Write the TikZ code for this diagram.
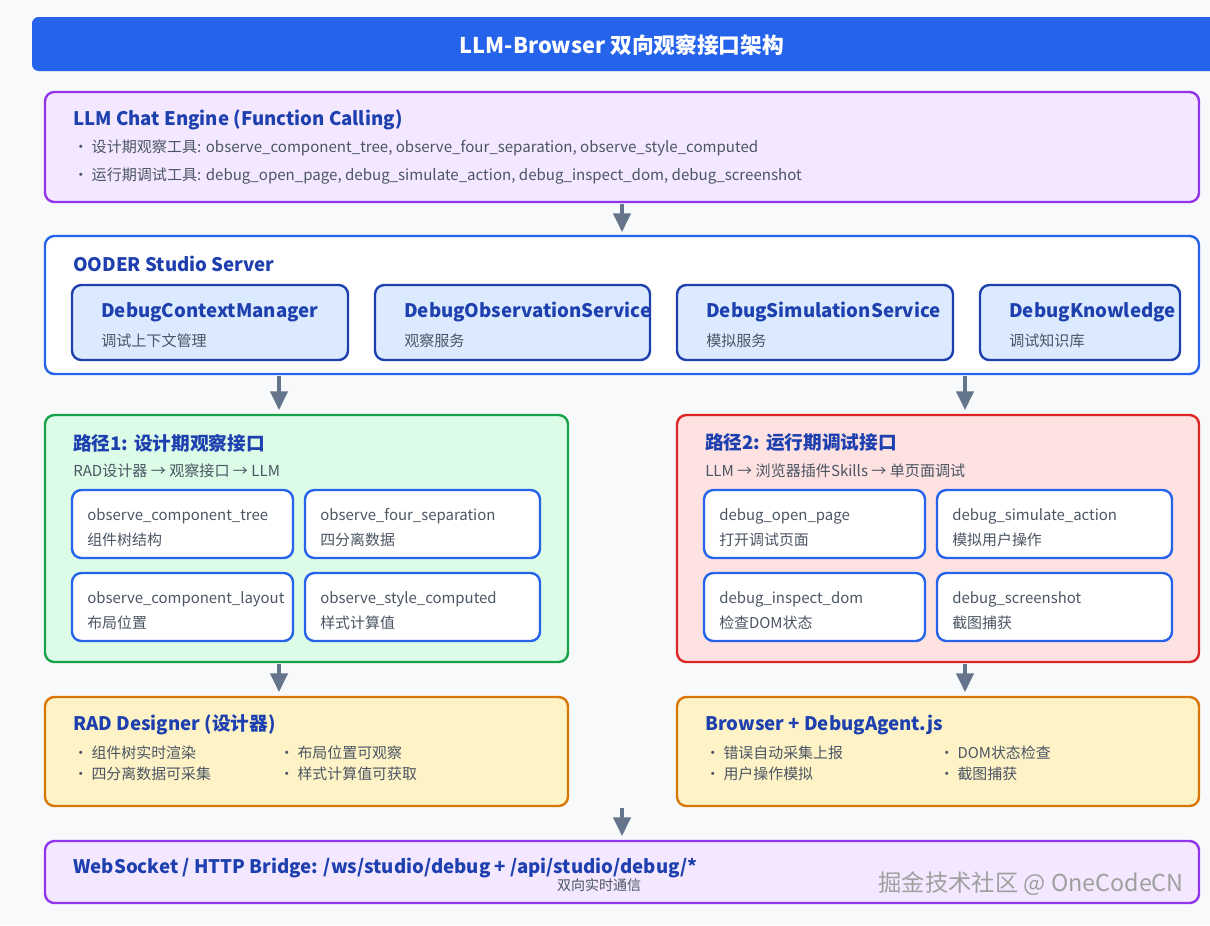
\documentclass[tikz,border=0pt]{standalone}
\usepackage{fontspec}
\usetikzlibrary{arrows.meta}
\setmainfont{Noto Sans CJK SC}
\begin{document}
\definecolor{bg}{HTML}{F8F9FA}
\definecolor{tblue}{HTML}{2563EB}
\definecolor{dblue}{HTML}{1E40AF}
\definecolor{gtxt}{HTML}{4B5563}
\definecolor{arr}{HTML}{64748B}
\definecolor{pstk}{HTML}{9333EA}\definecolor{pfil}{HTML}{F3E8FF}
\definecolor{gstk}{HTML}{16A34A}\definecolor{gfil}{HTML}{DCFCE7}
\definecolor{rstk}{HTML}{DC2626}\definecolor{rfil}{HTML}{FEE2E2}
\definecolor{ystk}{HTML}{D97706}\definecolor{yfil}{HTML}{FEF3C7}
\definecolor{bfil}{HTML}{DBEAFE}
\begin{tikzpicture}[x=0.75pt,y=-0.75pt,
  box/.style={draw=#1,line width=1.8pt,rounded corners=7pt},
  ttl/.style={anchor=west,inner sep=0pt,text=dblue,font=\fontsize{14}{17}\selectfont\bfseries},
  sub/.style={anchor=west,inner sep=0pt,text=gtxt,font=\fontsize{11.3}{13}\selectfont},
  itm/.style={anchor=west,inner sep=0pt,text=gtxt,font=\fontsize{11.2}{13}\selectfont},
  arw/.style={draw=arr,line width=2.4pt,-{Triangle[length=14pt,width=13pt]}}]
\useasboundingbox (0,0) rectangle (1210,925);
\fill[bg] (0,0) rectangle (1210,925);
\fill[tblue,rounded corners=5pt] (32,17) rectangle (1225,71);
\node[text=white,font=\fontsize{16.3}{19}\selectfont\bfseries] (title) at (622,45) {LLM-Browser 双向观察接口架构};
% LLM
\draw[box=pstk,fill=pfil] (45,92) rectangle (1199,202);
\node[ttl] (llm) at (73,120) {LLM Chat Engine (Function Calling)};
\node[sub] (l1) at (73,148) {・ 设计期观察工具: observe\_component\_tree, observe\_four\_separation, observe\_style\_computed};
\node[sub] (l2) at (73,176) {・ 运行期调试工具: debug\_open\_page, debug\_simulate\_action, debug\_inspect\_dom, debug\_screenshot};
\coordinate (a1s) at (622,204); \coordinate (a1e) at (622,232);
\draw[arw] (a1s) -- (a1e);
% OODER
\draw[box=tblue,fill=white] (45,236) rectangle (1199,374);
\node[ttl] (oo) at (73,264) {OODER Studio Server};
\foreach \x/\w/\t/\s [count=\i] in {72/276/DebugContextManager/调试上下文管理,375/275/DebugObservationService/观察服务,677/276/DebugSimulationService/模拟服务,980/200/DebugKnowledge/调试知识库}{
  \draw[box=dblue,fill=bfil] (\x,285) rectangle (\x+\w,360);
  \node[ttl] (s\i) at (\x+29,312) {\t};
  \node[sub] (ss\i) at (\x+29,341) {\s};
}
\coordinate (a2s) at (279,376); \coordinate (a2e) at (279,410);
\coordinate (a3s) at (965,376); \coordinate (a3e) at (965,410);
\draw[arw] (a2s) -- (a2e); \draw[arw] (a3s) -- (a3e);
% paths
\draw[box=gstk,fill=gfil] (45,415) rectangle (568,662);
\node[ttl] (p1) at (73,443) {路径1: 设计期观察接口};
\node[sub] (p1s) at (73,471) {RAD设计器 → 观察接口 → LLM};
\draw[box=rstk,fill=rfil] (677,415) rectangle (1199,662);
\node[ttl] (p2) at (705,443) {路径2: 运行期调试接口};
\node[sub] (p2s) at (705,471) {LLM → 浏览器插件Skills → 单页面调试};
\foreach \x/\y/\w/\a/\b [count=\i] in {
 72/490/221/observe\_component\_tree/组件树结构, 305/490/235/observe\_four\_separation/四分离数据,
 72/573/221/observe\_component\_layout/布局位置, 305/573/235/observe\_style\_computed/样式计算值,
 704/490/221/debug\_open\_page/打开调试页面, 937/490/235/debug\_simulate\_action/模拟用户操作,
 704/573/221/debug\_inspect\_dom/检查DOM状态, 937/573/235/debug\_screenshot/截图捕获}{
  \draw[box=tblue,fill=white] (\x,\y) rectangle (\x+\w,\y+68);
  \node[itm] (t\i) at (\x+15,\y+26) {\a};
  \node[itm] (u\i) at (\x+15,\y+50) {\b};
}
\coordinate (a4s) at (279,664); \coordinate (a4e) at (279,692);
\coordinate (a5s) at (965,664); \coordinate (a5e) at (965,692);
\draw[arw] (a4s) -- (a4e); \draw[arw] (a5s) -- (a5e);
% RAD / Browser
\draw[box=ystk,fill=yfil] (45,697) rectangle (568,806);
\node[ttl] (rad) at (73,725) {RAD Designer (设计器)};
\node[itm] (r1) at (73,753) {・ 组件树实时渲染};
\node[itm] (r2) at (73,774) {・ 四分离数据可采集};
\node[itm] (r3) at (279,753) {・ 布局位置可观察};
\node[itm] (r4) at (279,774) {・ 样式计算值可获取};
\draw[box=ystk,fill=yfil] (677,697) rectangle (1199,806);
\node[ttl] (br) at (705,725) {Browser + DebugAgent.js};
\node[itm] (b1) at (705,753) {・ 错误自动采集上报};
\node[itm] (b2) at (705,774) {・ 用户操作模拟};
\node[itm] (b3) at (939,753) {・ DOM状态检查};
\node[itm] (b4) at (939,774) {・ 截图捕获};
\coordinate (a6s) at (622,808); \coordinate (a6e) at (622,836);
\draw[arw] (a6s) -- (a6e);
% bridge
\draw[box=pstk,fill=pfil] (45,841) rectangle (1199,903);
\node[ttl] (ws) at (73,868) {WebSocket / HTTP Bridge: /ws/studio/debug + /api/studio/debug/*};
\node[text=gtxt,font=\fontsize{10.5}{12}\selectfont] (wss) at (599,885) {双向实时通信};
\node[anchor=east,inner sep=0pt,text=gray!75,font=\fontsize{17.5}{20}\selectfont] (wm) at (1184,884) {掘金技术社区 @ OneCodeCN};
\end{tikzpicture}
\end{document}
